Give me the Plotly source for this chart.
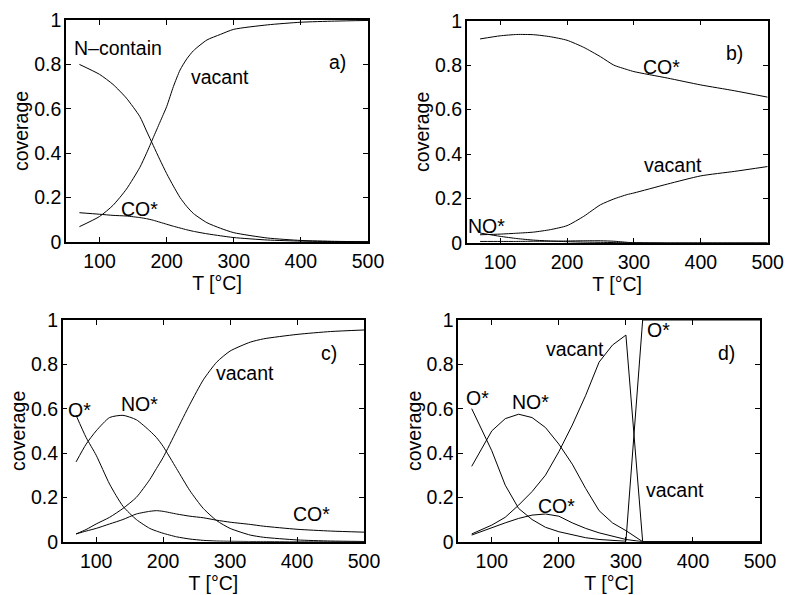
import plotly.graph_objects as go

# ---------------- data ----------------
# Panel a
T_a = [70, 100, 120, 140, 160, 170, 180, 190, 200, 210, 220, 230, 240, 260, 280, 300, 350, 400, 450, 500]
a_ncontain = [0.80, 0.755, 0.71, 0.648, 0.565, 0.50, 0.435, 0.37, 0.308, 0.252, 0.20, 0.16, 0.128, 0.087, 0.062, 0.042, 0.018, 0.007, 0.003, 0.001]
a_vacant = [0.069, 0.115, 0.165, 0.238, 0.336, 0.40, 0.47, 0.54, 0.61, 0.70, 0.775, 0.825, 0.862, 0.91, 0.935, 0.958, 0.978, 0.99, 0.995, 0.998]
a_co = [0.132, 0.125, 0.12, 0.117, 0.11, 0.105, 0.098, 0.089, 0.08, 0.071, 0.063, 0.055, 0.048, 0.037, 0.028, 0.02, 0.009, 0.004, 0.002, 0.001]

# Panel b
T_b = [70, 100, 125, 150, 175, 200, 225, 250, 270, 290, 300, 350, 400, 450, 500]
b_co = [0.918, 0.932, 0.938, 0.937, 0.928, 0.912, 0.88, 0.838, 0.80, 0.78, 0.771, 0.742, 0.711, 0.685, 0.656]
b_vacant = [0.037, 0.04, 0.044, 0.049, 0.06, 0.078, 0.12, 0.172, 0.198, 0.218, 0.225, 0.265, 0.302, 0.322, 0.344]
b_no = [0.045, 0.03, 0.02, 0.013, 0.009, 0.006, 0.004, 0.003, 0.002, 0.001, 0.001, 0.0, 0.0, 0.0, 0.0]
b_other = [0.007, 0.007, 0.007, 0.008, 0.008, 0.009, 0.01, 0.01, 0.008, 0.003, 0.001, 0.0, 0.0, 0.0, 0.0]

# Panel c
T_c = [70, 85, 100, 120, 140, 160, 180, 190, 200, 220, 240, 260, 280, 300, 330, 350, 400, 450, 500]
c_o = [0.57, 0.47, 0.39, 0.26, 0.16, 0.10, 0.06, 0.048, 0.038, 0.022, 0.012, 0.006, 0.003, 0.002, 0.001, 0.001, 0.0, 0.0, 0.0]
c_no = [0.36, 0.44, 0.50, 0.56, 0.57, 0.55, 0.50, 0.47, 0.43, 0.33, 0.23, 0.15, 0.095, 0.06, 0.03, 0.02, 0.008, 0.003, 0.001]
c_vacant = [0.035, 0.055, 0.08, 0.11, 0.15, 0.20, 0.28, 0.33, 0.38, 0.50, 0.62, 0.73, 0.81, 0.86, 0.90, 0.915, 0.935, 0.948, 0.955]
c_co = [0.035, 0.048, 0.06, 0.08, 0.10, 0.125, 0.137, 0.14, 0.137, 0.125, 0.115, 0.108, 0.097, 0.088, 0.078, 0.07, 0.056, 0.048, 0.043]

# Panel d
T_d = [70, 100, 120, 140, 160, 180, 200, 220, 240, 260, 280, 300, 325, 350, 400, 450, 500]
d_o = [0.60, 0.41, 0.255, 0.15, 0.10, 0.065, 0.045, 0.03, 0.018, 0.01, 0.005, 0.002, 1.0, 1.0, 1.0, 1.0, 1.0]
d_vacant = [0.035, 0.075, 0.11, 0.165, 0.226, 0.30, 0.406, 0.526, 0.66, 0.81, 0.887, 0.932, 0.0, 0.0, 0.0, 0.0, 0.0]
d_no = [0.34, 0.50, 0.555, 0.575, 0.56, 0.515, 0.44, 0.35, 0.24, 0.14, 0.085, 0.05, 0.0, 0.0, 0.0, 0.0, 0.0]
d_co = [0.03, 0.065, 0.085, 0.105, 0.12, 0.125, 0.115, 0.085, 0.06, 0.04, 0.025, 0.01, 0.0, 0.0, 0.0, 0.0, 0.0]

x_ticks = [100, 200, 300, 400, 500]
y_ticks = [0, 0.2, 0.4, 0.6, 0.8, 1]
y_tick_labels = ["0", "0.2", "0.4", "0.6", "0.8", "1"]

# labels: (panel, text, T, coverage)
labels = [
    (1, "N\u2013contain", 127, 0.872), (1, "a)", 455, 0.811), (1, "vacant", 280, 0.744), (1, "CO*", 160, 0.148),
    (2, "b)", 451, 0.853), (2, "CO*", 341, 0.79), (2, "vacant", 358, 0.35), (2, "NO*", 80, 0.075),
    (3, "c)", 447, 0.85), (3, "vacant", 323, 0.76), (3, "O*", 75, 0.595), (3, "NO*", 165, 0.62), (3, "CO*", 422, 0.123),
    (4, "d)", 450, 0.85), (4, "vacant", 224, 0.87), (4, "O*", 348, 0.955), (4, "O*", 78, 0.647),
    (4, "NO*", 157, 0.63), (4, "CO*", 197, 0.16), (4, "vacant", 373, 0.233),
]

# ---------------- figure ----------------
W, H = 787, 595
FONT = "Liberation Sans, Arial, Helvetica, sans-serif"
FS = 19.5

# panel boxes in pixels: left, right, top, bottom
boxes = {
    1: (66, 368, 20, 242),
    2: (466.7, 767.7, 20.7, 243),
    3: (62.7, 364, 320, 541.7),
    4: (458.3, 760, 320, 541.7),
}

series = {
    1: (T_a, [a_ncontain, a_vacant, a_co], "spline"),
    2: (T_b, [b_co, b_vacant, b_no, b_other], "spline"),
    3: (T_c, [c_o, c_no, c_vacant, c_co], "spline"),
    4: (T_d, [d_o, d_vacant, d_no, d_co], "linear"),
}

fig = go.Figure()
layout = dict(
    width=W, height=H,
    margin=dict(l=0, r=0, t=0, b=0),
    paper_bgcolor="white", plot_bgcolor="white",
    showlegend=False,
    font=dict(family=FONT, size=FS, color="black"),
)

for p, (T, ys, shape) in series.items():
    xa = "x" if p == 1 else f"x{p}"
    ya = "y" if p == 1 else f"y{p}"
    for y in ys:
        fig.add_trace(go.Scatter(
            x=T, y=y, mode="lines", xaxis=xa, yaxis=ya,
            line=dict(color="black", width=1, shape=shape, smoothing=0.6 if shape == "spline" else None),
            hoverinfo="skip", cliponaxis=False,
        ))
    l, r, t, b = boxes[p]
    xkey = "xaxis" if p == 1 else f"xaxis{p}"
    ykey = "yaxis" if p == 1 else f"yaxis{p}"
    layout[xkey] = dict(
        domain=[l / W, r / W], anchor=ya, range=[50, 500],
        tickvals=x_ticks, ticks="inside", ticklen=5, tickwidth=1, tickcolor="black",
        showline=True, linecolor="black", linewidth=1.5, mirror="ticks",
        showgrid=False, zeroline=False, ticklabelstandoff=1,
        title=dict(text="T [°C]", standoff=4, font=dict(size=FS)),
        tickfont=dict(size=FS), automargin=False,
    )
    layout[ykey] = dict(
        domain=[1 - b / H, 1 - t / H], anchor=xa, range=[0, 1],
        tickvals=y_ticks, ticktext=y_tick_labels,
        ticks="inside", ticklen=5, tickwidth=1, tickcolor="black",
        showline=True, linecolor="black", linewidth=1.5, mirror="ticks",
        showgrid=False, zeroline=False, ticklabelstandoff=-1,
        title=dict(text="coverage", standoff=0, font=dict(size=FS)),
        tickfont=dict(size=FS), automargin=False,
    )

annotations = []
for p, text, tx, ty in labels:
    xa = "x" if p == 1 else f"x{p}"
    ya = "y" if p == 1 else f"y{p}"
    annotations.append(dict(
        x=tx, y=ty, xref=xa, yref=ya, text=text, showarrow=False,
        font=dict(family=FONT, size=FS, color="black"),
        xanchor="center", yanchor="middle",
    ))
layout["annotations"] = annotations

fig.update_layout(**layout)
fig.write_html("out.html", config={"displayModeBar": False},
               post_script="document.body.style.margin='0';document.body.style.padding='0';")
